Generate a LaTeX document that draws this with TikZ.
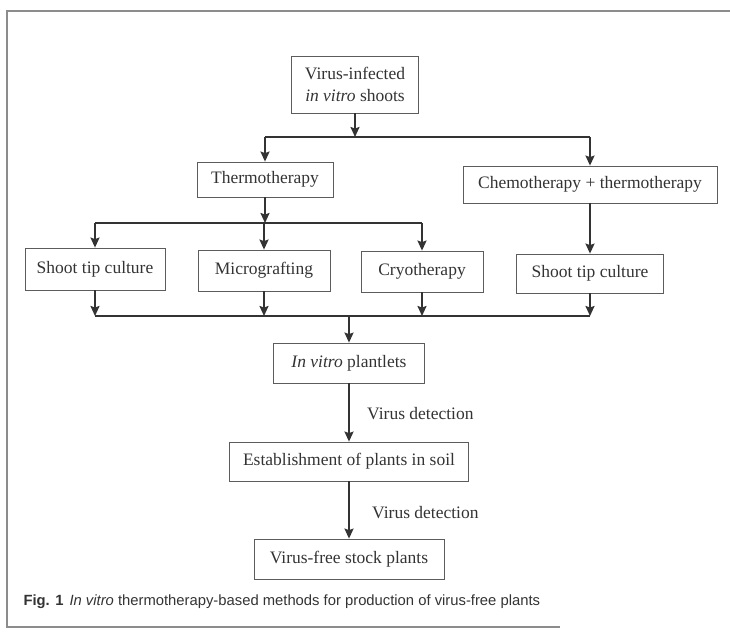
\documentclass[tikz,border=0pt]{standalone}
\usepackage{fontspec}
\setmainfont{Liberation Serif}
\newfontfamily\capfont{Liberation Sans}
\usetikzlibrary{arrows.meta}
\definecolor{ink}{HTML}{333333}
\definecolor{framegray}{HTML}{8C8C8C}

\begin{document}
\begin{tikzpicture}[x=1pt,y=-1pt,
    box/.style={draw=ink!80, line width=0.8pt, text=ink, inner sep=0pt,
      font=\fontsize{17.5}{22}\selectfont},
    arr/.style={draw=ink, line width=1.8pt, -{Stealth[length=10pt,width=9pt,inset=1.5pt]}},
    link/.style={draw=ink, line width=1.8pt},
    lab/.style={text=ink, anchor=west, font=\fontsize{17.5}{22}\selectfont}]
  \useasboundingbox (0,0) rectangle (730,632);
  \draw[framegray, line width=1.2pt] (730,11) -- (7,11) -- (7,627) -- (560,627);

  \node[box, minimum width=127pt, minimum height=57pt, align=center] (shoots) at (355,84.5) {Virus-infected\\\textit{in vitro} shoots};
  \node[box, minimum width=136pt, minimum height=35pt] (thermo) at (265,179.5) {Thermotherapy};
  \node[box, minimum width=254pt, minimum height=37pt] (chemo) at (590,184.5) {Chemotherapy + thermotherapy};
  \node[box, minimum width=140pt, minimum height=42pt] (tipa) at (95,269) {Shoot tip culture};
  \node[box, minimum width=132pt, minimum height=41pt] (graft) at (264,270.5) {Micrografting};
  \node[box, minimum width=122pt, minimum height=41pt] (cryo) at (422,271.5) {Cryotherapy};
  \node[box, minimum width=147pt, minimum height=39pt] (tipb) at (590,273.5) {Shoot tip culture};
  \node[box, minimum width=151pt, minimum height=40pt] (plantlets) at (349,363) {\textit{In vitro} plantlets};
  \node[box, minimum width=239pt, minimum height=39pt] (soil) at (349,461.5) {Establishment of plants in soil};
  \node[box, minimum width=190pt, minimum height=40pt] (free) at (349,559) {Virus-free stock plants};

  \coordinate (j1) at (355,137);
  \coordinate (j2) at (265,223);
  \coordinate (j3) at (349,316);

  \draw[arr] (shoots) -- (j1);
  \draw[link] (j1 -| thermo) -- (j1 -| chemo);
  \draw[arr] (j1 -| thermo) -- (thermo);
  \draw[arr] (j1 -| chemo) -- (chemo);

  \draw[arr] (thermo) -- (j2);
  \draw[link] (j2 -| tipa) -- (j2 -| cryo);
  \draw[arr] (j2 -| tipa) -- (tipa);
  \draw[arr] (j2 -| graft) -- (graft);
  \draw[arr] (j2 -| cryo) -- (cryo);
  \draw[arr] (chemo.south -| tipb) -- (tipb);

  \draw[arr] (tipa) -- (j3 -| tipa);
  \draw[arr] (graft) -- (j3 -| graft);
  \draw[arr] (cryo) -- (j3 -| cryo);
  \draw[arr] (tipb) -- (j3 -| tipb);
  \draw[link] (j3 -| tipa) -- (j3 -| tipb);
  \draw[arr] (j3 -| plantlets) -- (plantlets);

  \draw[arr] (plantlets) -- node[lab, xshift=14pt, yshift=-1.5pt] (detecta) {Virus detection} (soil);
  \draw[arr] (soil) -- node[lab, xshift=19pt, yshift=-3pt] (detectb) {Virus detection} (free);

  \node[anchor=west, text=ink, font=\capfont\fontsize{14.8}{17}\selectfont] (caption) at (20,602)
    {\textbf{Fig. 1}\hspace{6pt}\textit{In vitro} thermotherapy-based methods for production of virus-free plants};
\end{tikzpicture}
\end{document}
